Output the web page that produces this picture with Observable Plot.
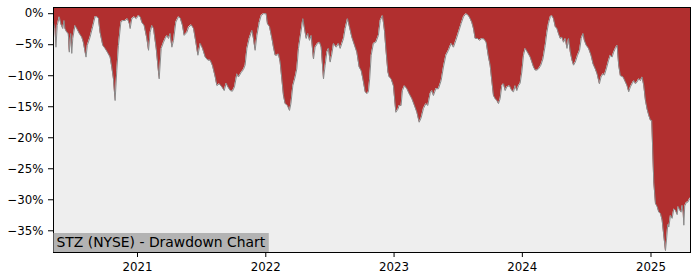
<!DOCTYPE html>
<html><head><meta charset="utf-8">
<script src="https://cdn.jsdelivr.net/npm/d3@7"></script>
<script src="https://cdn.jsdelivr.net/npm/@observablehq/plot@0.6"></script>
<style>body{margin:0;background:#fff;} #chart svg{display:block;}</style>
</head><body><div id="chart"></div>
<script>
const title = "STZ (NYSE) - Drawdown Chart";
const yTicks = [0, -5, -10, -15, -20, -25, -30, -35];
const xTickYears = [2021, 2022, 2023, 2024, 2025];
// dates as fractional years
const dateYears = [
2020.347,2020.359,2020.366,2020.376,2020.392,2020.405,2020.419,2020.429,2020.436,2020.450,
2020.462,2020.470,2020.481,2020.489,2020.497,2020.514,2020.528,2020.548,2020.567,2020.579,
2020.600,2020.610,2020.631,2020.652,2020.670,2020.684,2020.696,2020.709,2020.730,2020.748,
2020.766,2020.787,2020.800,2020.813,2020.826,2020.839,2020.852,2020.871,2020.886,2020.904,
2020.922,2020.938,2020.943,2020.956,2020.974,2020.990,2021.008,2021.021,2021.034,2021.052,
2021.073,2021.086,2021.099,2021.112,2021.125,2021.146,2021.169,2021.185,2021.203,2021.216,
2021.229,2021.242,2021.255,2021.268,2021.281,2021.299,2021.320,2021.333,2021.351,2021.364,
2021.385,2021.398,2021.419,2021.437,2021.455,2021.471,2021.489,2021.507,2021.528,2021.549,
2021.567,2021.585,2021.606,2021.619,2021.637,2021.658,2021.676,2021.691,2021.705,2021.723,
2021.740,2021.756,2021.775,2021.787,2021.808,2021.826,2021.839,2021.853,2021.871,2021.892,
2021.904,2021.917,2021.931,2021.949,2021.964,2021.982,2022.003,2022.013,2022.029,2022.048,
2022.060,2022.073,2022.087,2022.099,2022.112,2022.125,2022.138,2022.151,2022.169,2022.185,
2022.196,2022.211,2022.229,2022.242,2022.255,2022.274,2022.289,2022.302,2022.315,2022.328,
2022.341,2022.354,2022.372,2022.385,2022.403,2022.419,2022.432,2022.450,2022.463,2022.476,
2022.489,2022.502,2022.515,2022.528,2022.549,2022.567,2022.580,2022.593,2022.606,2022.619,
2022.637,2022.652,2022.671,2022.684,2022.697,2022.710,2022.728,2022.744,2022.757,2022.775,
2022.788,2022.800,2022.810,2022.822,2022.839,2022.858,2022.878,2022.892,2022.910,2022.925,
2022.936,2022.952,2022.962,2022.977,2022.995,2023.014,2023.030,2023.040,2023.055,2023.065,
2023.081,2023.100,2023.118,2023.139,2023.159,2023.178,2023.196,2023.211,2023.229,2023.248,
2023.263,2023.281,2023.295,2023.307,2023.326,2023.346,2023.367,2023.385,2023.404,2023.424,
2023.445,2023.463,2023.482,2023.502,2023.523,2023.541,2023.560,2023.580,2023.593,2023.606,
2023.619,2023.632,2023.650,2023.666,2023.684,2023.702,2023.718,2023.736,2023.749,2023.762,
2023.775,2023.788,2023.801,2023.814,2023.827,2023.840,2023.853,2023.866,2023.879,2023.899,
2023.918,2023.931,2023.944,2023.957,2023.970,2023.983,2023.996,2024.009,2024.022,2024.040,
2024.061,2024.074,2024.087,2024.100,2024.113,2024.126,2024.144,2024.160,2024.178,2024.191,
2024.203,2024.217,2024.230,2024.242,2024.256,2024.269,2024.281,2024.295,2024.308,2024.320,
2024.334,2024.347,2024.359,2024.373,2024.386,2024.398,2024.412,2024.429,2024.445,2024.458,
2024.472,2024.482,2024.497,2024.515,2024.534,2024.550,2024.567,2024.581,2024.599,2024.612,
2024.627,2024.638,2024.653,2024.671,2024.684,2024.698,2024.710,2024.723,2024.737,2024.749,
2024.762,2024.783,2024.801,2024.814,2024.827,2024.840,2024.853,2024.866,2024.879,2024.892,
2024.905,2024.918,2024.931,2024.944,2024.957,2024.970,2024.983,2024.996,2025.006,2025.014,
2025.022,2025.035,2025.048,2025.061,2025.074,2025.087,2025.100,2025.113,2025.121,2025.131,
2025.139,2025.152,2025.165,2025.178,2025.191,2025.204,2025.212,2025.225,2025.235,2025.243,
2025.251,2025.256,2025.263,2025.277,2025.287,2025.302,2025.308
];
// drawdown in percent
const drawdownPct = [
-1.5,-2.4,-5.4,-1.9,-0.5,-1.7,-2.4,-1.1,-2.4,-3.0,
-3.2,-6.2,-3.2,-6.4,-4.0,-1.9,-2.4,-3.2,-3.8,-4.6,
-7.0,-5.1,-3.8,-2.1,-0.5,-0.5,-0.7,-3.0,-5.1,-5.6,
-6.2,-7.0,-8.6,-10.5,-14.0,-9.2,-5.1,-1.35,-1.1,-1.1,
-0.8,-1.7,-2.4,-0.8,-0.5,-0.8,-0.3,-0.5,-1.4,-1.9,
-4.0,-5.9,-3.0,-1.9,-2.4,-5.6,-10.5,-5.6,-4.6,-4.0,
-3.5,-4.0,-3.2,-5.4,-4.3,-1.35,-0.5,-0.7,-1.9,-3.5,
-3.0,-2.2,-1.8,-2.4,-4.6,-6.7,-4.8,-5.6,-7.0,-7.5,
-7.5,-8.4,-10.2,-11.6,-11.3,-11.8,-12.4,-11.2,-11.8,-12.4,
-12.5,-11.8,-9.7,-10.2,-9.5,-9.0,-8.3,-5.6,-4.0,-2.7,
-4.0,-5.9,-3.5,-1.4,-0.3,0,0,-1.6,-2.1,-4.0,
-5.4,-6.7,-6.7,-6.5,-7.8,-10.5,-13.2,-14.5,-14.8,-15.6,
-14.5,-11.6,-10.2,-8.9,-5.6,-3.0,-0.8,-2.4,-4.0,-3.2,
-4.3,-3.5,-7.3,-5.4,-4.8,-4.6,-5.4,-10.5,-8.3,-6.2,
-5.6,-7.8,-6.5,-4.8,-5.4,-4.8,-5.6,-4.8,-4.0,-2.4,
-0.8,-2.1,-3.8,-4.6,-5.4,-6.2,-8.6,-9.2,-10.5,-12.6,
-12.9,-12.6,-10.5,-6.7,-4.8,-4.6,-3.5,-1.1,-0.3,-2.7,
-5.6,-9.4,-10.2,-10.5,-11.6,-15.9,-15.4,-14.8,-14.8,-12.4,
-11.6,-12.1,-12.9,-13.7,-14.8,-15.9,-17.5,-16.8,-15.3,-14.5,
-14.8,-12.9,-12.4,-13.2,-12.1,-12.1,-10.8,-8.6,-6.7,-5.9,
-4.8,-5.4,-4.3,-3.0,-1.6,-0.5,0,-0.3,-0.8,-1.4,
-2.4,-4.0,-4.0,-4.3,-4.0,-4.1,-4.6,-7.0,-8.3,-10.8,
-13.2,-13.7,-14.0,-14.5,-13.7,-11.6,-11.3,-12.4,-11.8,-11.6,
-12.4,-12.6,-11.6,-12.4,-11.6,-11.2,-9.4,-6.7,-5.6,-6.2,
-7.0,-7.8,-8.6,-9.1,-9.1,-8.9,-8.3,-7.3,-5.1,-3.0,
-1.6,-0.5,-0.3,-0.8,-2.1,-2.4,-3.2,-4.0,-3.8,-4.6,
-4.0,-5.6,-4.0,-6.2,-7.5,-8.3,-7.8,-6.7,-5.9,-4.0,
-3.2,-4.3,-5.1,-5.6,-6.7,-8.1,-8.9,-9.7,-11.3,-10.2,
-9.7,-9.9,-8.9,-7.5,-6.7,-7.0,-6.2,-5.6,-5.1,-8.3,
-10.0,-10.2,-11.0,-11.6,-12.6,-11.8,-11.3,-10.8,-11.3,-11.0,
-10.5,-10.8,-10.2,-11.6,-14.0,-15.4,-16.4,-17.2,-17.2,-22.3,
-27.2,-30.6,-31.1,-32.0,-32.2,-33.3,-35.8,-38.2,-36.5,-34.0,
-34.4,-32.5,-33.0,-31.5,-31.7,-32.4,-31.1,-31.7,-32.0,-30.9,
-32.0,-34.1,-31.0,-30.4,-30.4,-29.8,-29.7
];

function yearToDate(y) {
  const yr = Math.floor(y);
  const s = Date.UTC(yr, 0, 1), e = Date.UTC(yr + 1, 0, 1);
  return new Date(s + (y - yr) * (e - s));
}
const data = dateYears.map((t, i) => ({date: yearToDate(t), dd: drawdownPct[i]}));
const yTop = 1.0, yBottom = -38.5;

const plot = Plot.plot({
  width: 700, height: 280,
  marginLeft: 53, marginRight: 10, marginTop: 7, marginBottom: 28,
  style: {fontFamily: "DejaVu Sans", fontSize: "11.8px", color: "#000", background: "#fff", overflow: "visible"},
  x: {type: "utc", domain: [data[0].date, data[data.length - 1].date]},
  y: {domain: [yBottom, yTop]},
  marks: [
    Plot.frame({fill: "#eeeeee"}),
    Plot.areaY(data, {x: "date", y1: "dd", y2: yTop, fill: "#b12f2f"}),
    Plot.lineY(data, {x: "date", y: "dd", stroke: "#8a8a8a", strokeWidth: 1}),
    Plot.axisX({ticks: xTickYears.map(y => new Date(Date.UTC(y, 0, 1))), tickFormat: d3.utcFormat("%Y"), tickSize: 5, tickPadding: 5, label: null}),
    Plot.axisY({ticks: yTicks, tickFormat: d => d === 0 ? "0%" : "\u2212" + Math.abs(d) + "%", tickSize: 5, tickPadding: 5, label: null}),
    Plot.frame({stroke: "#000", strokeWidth: 1})
  ]
});
document.getElementById("chart").appendChild(plot);

const svg = d3.select(plot);
const g = svg.append("g");
const rect = g.append("rect").attr("fill", "#b3b3b3");
const txt = g.append("text")
  .attr("x", 56.5).attr("y", 247)
  .attr("text-anchor", "start")
  .attr("font-family", "DejaVu Sans").attr("font-size", "13.9px").attr("fill", "#000")
  .text(title);
const bb = txt.node().getBBox();
rect.attr("x", 53.5).attr("y", 233).attr("width", bb.x + bb.width + 3 - 53.5).attr("height", 19);
</script>
</body></html>
